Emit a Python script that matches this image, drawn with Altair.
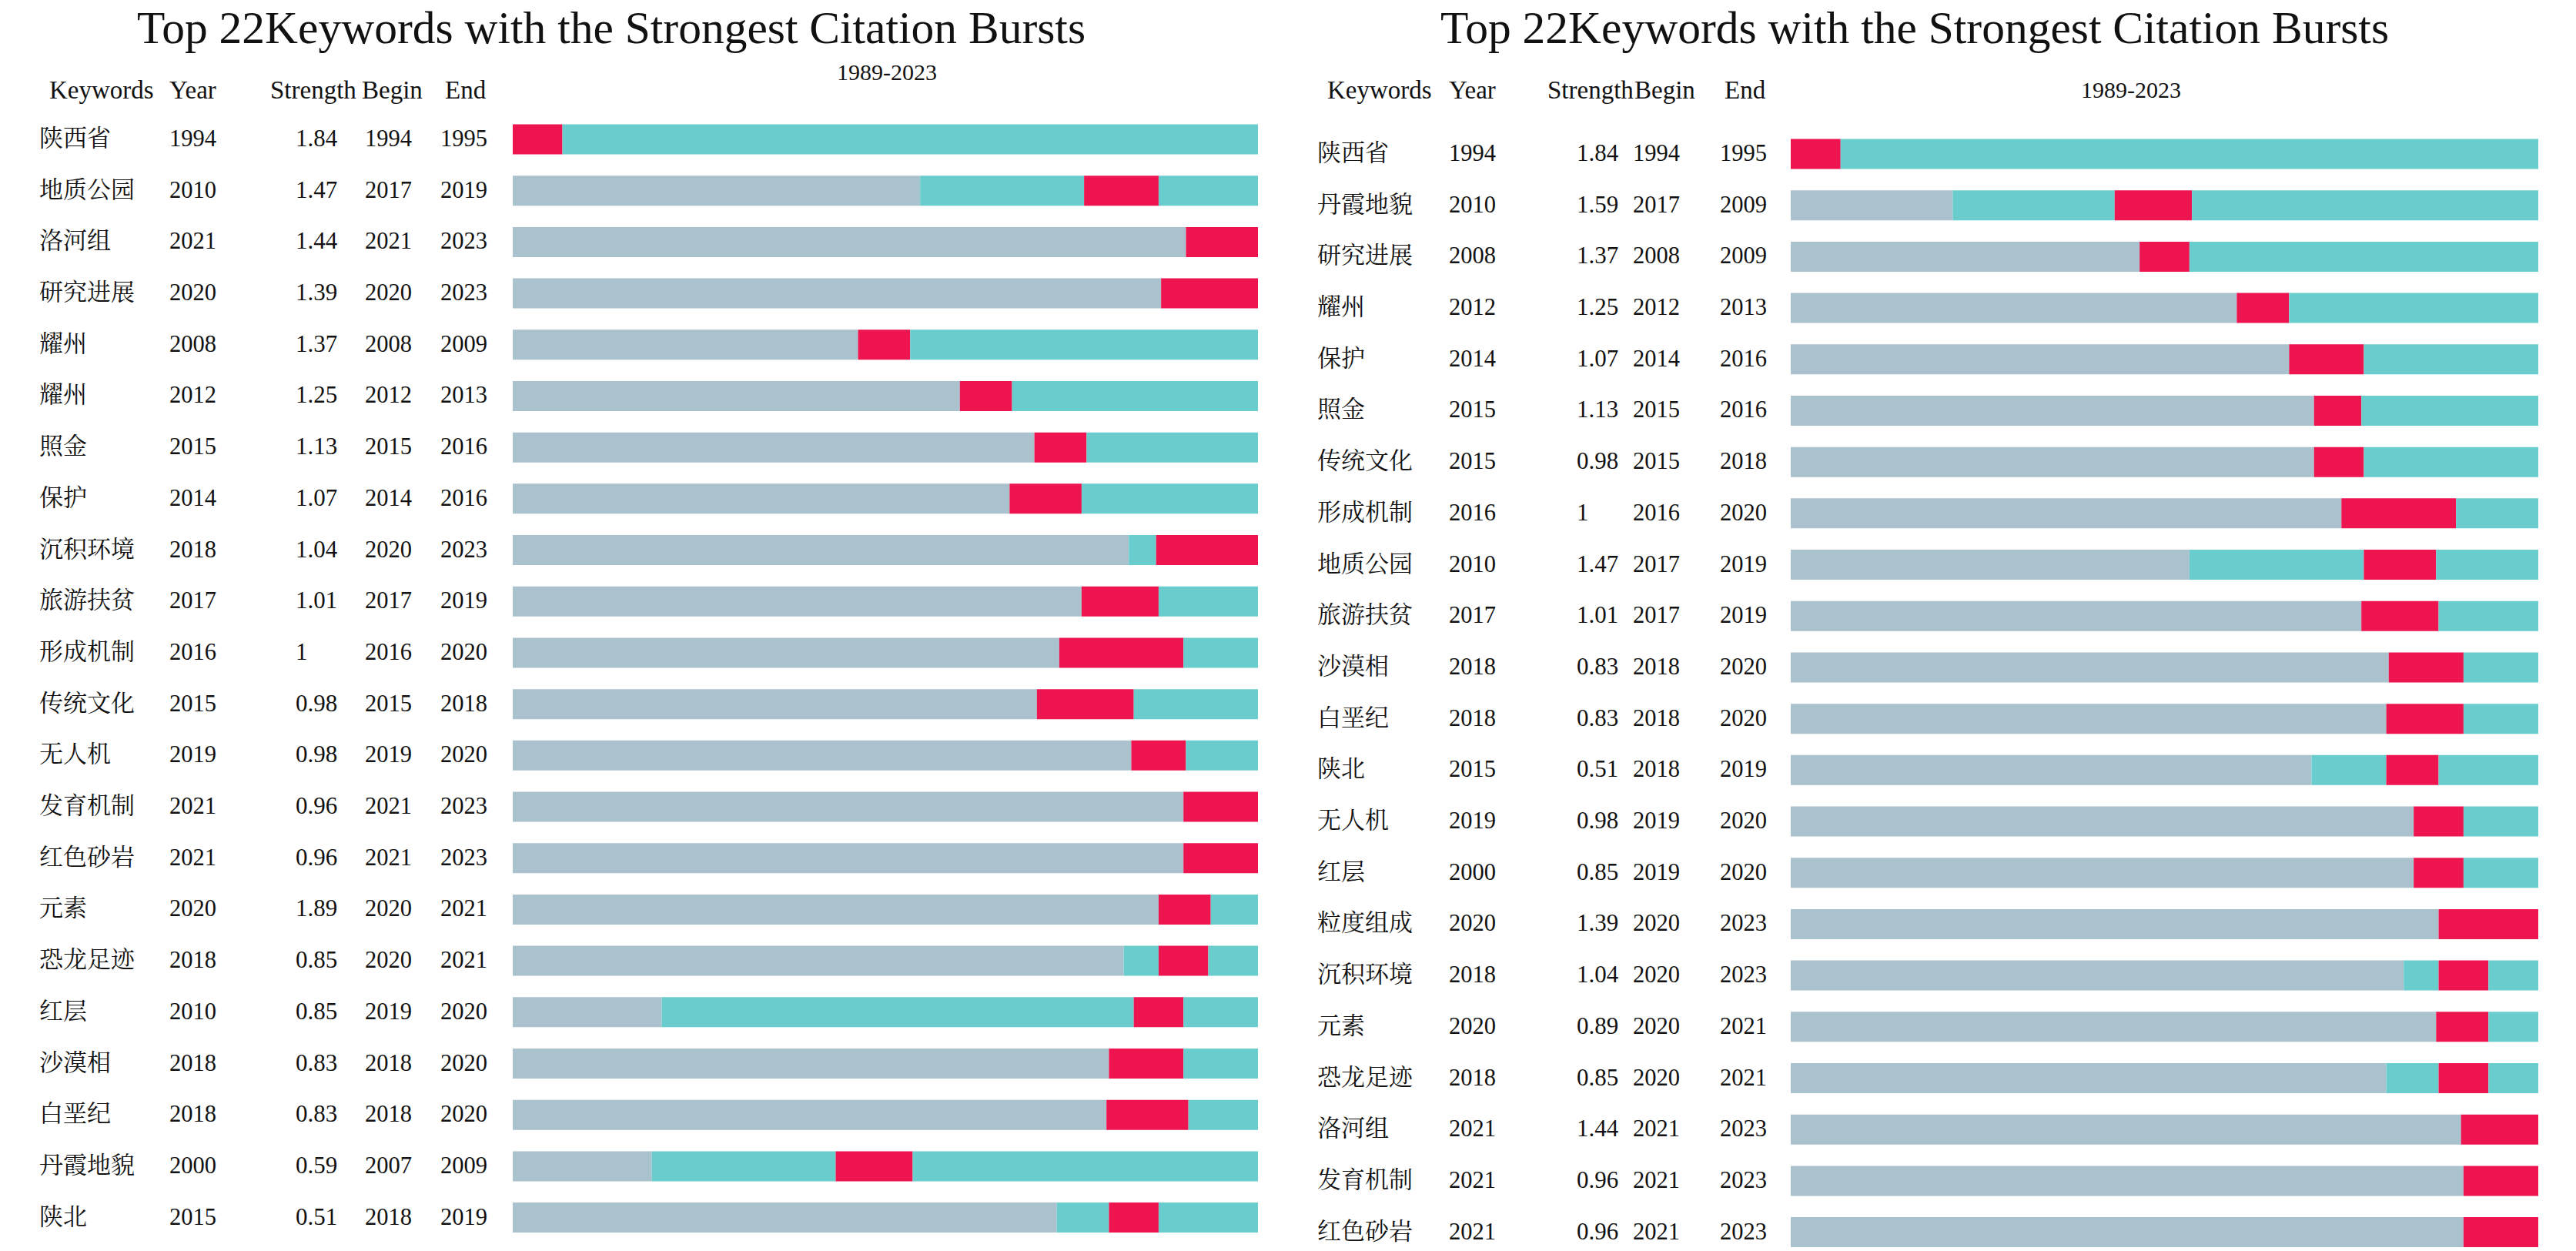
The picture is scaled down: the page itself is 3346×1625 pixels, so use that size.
import altair as alt
import pandas as pd

# ---------------- data: left panel ----------------
L_kw = ["陕西省", "地质公园", "洛河组", "研究进展", "耀州", "耀州", "照金", "保护", "沉积环境", "旅游扶贫",
        "形成机制", "传统文化", "无人机", "发育机制", "红色砂岩", "元素", "恐龙足迹", "红层", "沙漠相", "白垩纪",
        "丹霞地貌", "陕北"]
L_year = ["1994", "2010", "2021", "2020", "2008", "2012", "2015", "2014", "2018", "2017",
          "2016", "2015", "2019", "2021", "2021", "2020", "2018", "2010", "2018", "2018", "2000", "2015"]
L_str = ["1.84", "1.47", "1.44", "1.39", "1.37", "1.25", "1.13", "1.07", "1.04", "1.01",
         "1", "0.98", "0.98", "0.96", "0.96", "1.89", "0.85", "0.85", "0.83", "0.83", "0.59", "0.51"]
L_begin = ["1994", "2017", "2021", "2020", "2008", "2012", "2015", "2014", "2020", "2017",
           "2016", "2015", "2019", "2021", "2021", "2020", "2020", "2019", "2018", "2018", "2007", "2018"]
L_end = ["1995", "2019", "2023", "2023", "2009", "2013", "2016", "2016", "2023", "2019",
         "2020", "2018", "2020", "2023", "2023", "2021", "2021", "2020", "2020", "2020", "2009", "2019"]
# bar segments (year units on the 1994-2024 timeline)
L_gray_end = [1994, 2010.4, 2021.1, 2020.1, 2007.9, 2012, 2015, 2014, 2018.8, 2016.9,
              2016, 2015.1, 2018.9, 2021, 2021, 2020, 2018.6, 2000, 2018, 2017.9, 1999.6, 2015.9]
L_burst_b = [1994, 2017, 2021.1, 2020.1, 2007.9, 2012, 2015, 2014, 2019.9, 2016.9,
             2016, 2015.1, 2018.9, 2021, 2021, 2020, 2020, 2019, 2018, 2017.9, 2007, 2018]
L_burst_e = [1996, 2020, 2024, 2024, 2010, 2014.1, 2017.1, 2016.9, 2024, 2020,
             2021, 2019, 2021.1, 2024, 2024, 2022.1, 2022, 2021, 2021, 2021.2, 2010.1, 2020]

# ---------------- data: right panel ----------------
R_kw = ["陕西省", "丹霞地貌", "研究进展", "耀州", "保护", "照金", "传统文化", "形成机制", "地质公园", "旅游扶贫",
        "沙漠相", "白垩纪", "陕北", "无人机", "红层", "粒度组成", "沉积环境", "元素", "恐龙足迹", "洛河组",
        "发育机制", "红色砂岩"]
R_year = ["1994", "2010", "2008", "2012", "2014", "2015", "2015", "2016", "2010", "2017",
          "2018", "2018", "2015", "2019", "2000", "2020", "2018", "2020", "2018", "2021", "2021", "2021"]
R_str = ["1.84", "1.59", "1.37", "1.25", "1.07", "1.13", "0.98", "1", "1.47", "1.01",
         "0.83", "0.83", "0.51", "0.98", "0.85", "1.39", "1.04", "0.89", "0.85", "1.44", "0.96", "0.96"]
R_begin = ["1994", "2017", "2008", "2012", "2014", "2015", "2015", "2016", "2017", "2017",
           "2018", "2018", "2018", "2019", "2019", "2020", "2020", "2020", "2020", "2021", "2021", "2021"]
R_end = ["1995", "2009", "2009", "2013", "2016", "2016", "2018", "2020", "2019", "2019",
         "2020", "2020", "2019", "2020", "2020", "2023", "2023", "2021", "2021", "2023", "2023", "2023"]
R_gray_end = [1994, 2000.5, 2008, 2011.9, 2014, 2015, 2015, 2016.1, 2010, 2016.9,
              2018, 2017.9, 2014.9, 2019, 2019, 2020, 2018.6, 2019.9, 2017.9, 2020.9, 2021, 2021]
R_burst_b = [1994, 2007, 2008, 2011.9, 2014, 2015, 2015, 2016.1, 2017, 2016.9,
             2018, 2017.9, 2017.9, 2019, 2019, 2020, 2020, 2019.9, 2020, 2020.9, 2021, 2021]
R_burst_e = [1996, 2010.1, 2010, 2014, 2017, 2016.9, 2017, 2020.7, 2019.9, 2020,
             2021, 2021, 2020, 2021, 2021, 2024, 2022, 2022, 2022, 2024, 2024, 2024]

TITLE = "Top 22Keywords with the Strongest Citation Bursts"
RANGE_LABEL = "1989-2023"
HEADERS = ["Keywords", "Year", "Strength", "Begin", "End"]
T0, T1 = 1994, 2024

GRAY, TEAL, RED = "#AAC2CE", "#69CCCD", "#EE1450"
SERIF = "Liberation Serif, Times New Roman, Noto Serif CJK SC, Noto Sans CJK SC"


def segments(gray_end, bb, be):
    rows = []
    for i, (g, b, e) in enumerate(zip(gray_end, bb, be)):
        if g > T0:
            rows.append(dict(row=i, s=T0, e=g, c="gray"))
        if b > g:
            rows.append(dict(row=i, s=g, e=b, c="teal"))
        rows.append(dict(row=i, s=b, e=e, c="red"))
        if e < T1:
            rows.append(dict(row=i, s=e, e=T1, c="teal"))
    return pd.DataFrame(rows)


def panel(kw, yr, st, bg, en, ge, bb, be, xr, yr_range, cols, hdr_x, hdr_y, title_x, rng_x, rng_y, W, H):
    seg = segments(ge, bb, be)
    tab = pd.DataFrame(dict(row=list(range(len(kw))), kw=kw, yr=yr, st=st, bg=bg, en=en))
    yscale = alt.Scale(domain=[0, len(kw) - 1], range=yr_range, nice=False, zero=False)
    bars = alt.Chart(seg).mark_bar(size=39).encode(
        x=alt.X("s:Q", scale=alt.Scale(domain=[T0, T1], range=xr, nice=False, zero=False), axis=None),
        x2="e:Q",
        y=alt.Y("row:Q", scale=yscale, axis=None),
        color=alt.Color("c:N", scale=alt.Scale(domain=["gray", "teal", "red"], range=[GRAY, TEAL, RED]), legend=None),
    )
    layers = [bars]
    for field, xpos, fs in zip(["kw", "yr", "st", "bg", "en"], cols, [31, 30.5, 31, 30.5, 30.5]):
        layers.append(alt.Chart(tab).mark_text(align="left", baseline="middle", font=SERIF, fontSize=fs,
                                               color="#111111").encode(
            x=alt.value(xpos), y=alt.Y("row:Q", scale=yscale, axis=None), text=f"{field}:N"))
    for h, xpos in zip(HEADERS, hdr_x):
        layers.append(alt.Chart(pd.DataFrame({"t": [h]})).mark_text(
            align="left", baseline="middle", font=SERIF, fontSize=33, color="#111111").encode(
            x=alt.value(xpos), y=alt.value(hdr_y), text="t:N"))
    layers.append(alt.Chart(pd.DataFrame({"t": [RANGE_LABEL]})).mark_text(
        align="center", baseline="middle", font=SERIF, fontSize=30, color="#111111").encode(
        x=alt.value(rng_x), y=alt.value(rng_y), text="t:N"))
    layers.append(alt.Chart(pd.DataFrame({"t": [TITLE]})).mark_text(
        align="center", baseline="top", font=SERIF, fontSize=59.5, color="#111111").encode(
        x=alt.value(title_x), y=alt.value(0), text="t:N"))
    return alt.layer(*layers).properties(width=W, height=H)


H = 1617
left = panel(L_kw, L_year, L_str, L_begin, L_end, L_gray_end, L_burst_b, L_burst_e,
             xr=[658, 1626], yr_range=[167, 1577.6],
             cols=[43, 212, 376, 466, 564], hdr_x=[56, 212, 343, 462, 570], hdr_y=109,
             title_x=786, rng_x=1144, rng_y=86, W=1692, H=H)
right = panel(R_kw, R_year, R_str, R_begin, R_end, R_gray_end, R_burst_b, R_burst_e,
              xr=[626, 1597], yr_range=[186, 1596.6],
              cols=[11, 182, 348, 421, 534], hdr_x=[24, 182, 310, 423, 540], hdr_y=109,
              title_x=787, rng_x=1068, rng_y=109, W=1630, H=H)

chart = alt.hconcat(left, right, spacing=0).properties(padding=0).configure_view(stroke=None)
chart.save("out.html", embed_options={"renderer": "svg", "actions": False})
